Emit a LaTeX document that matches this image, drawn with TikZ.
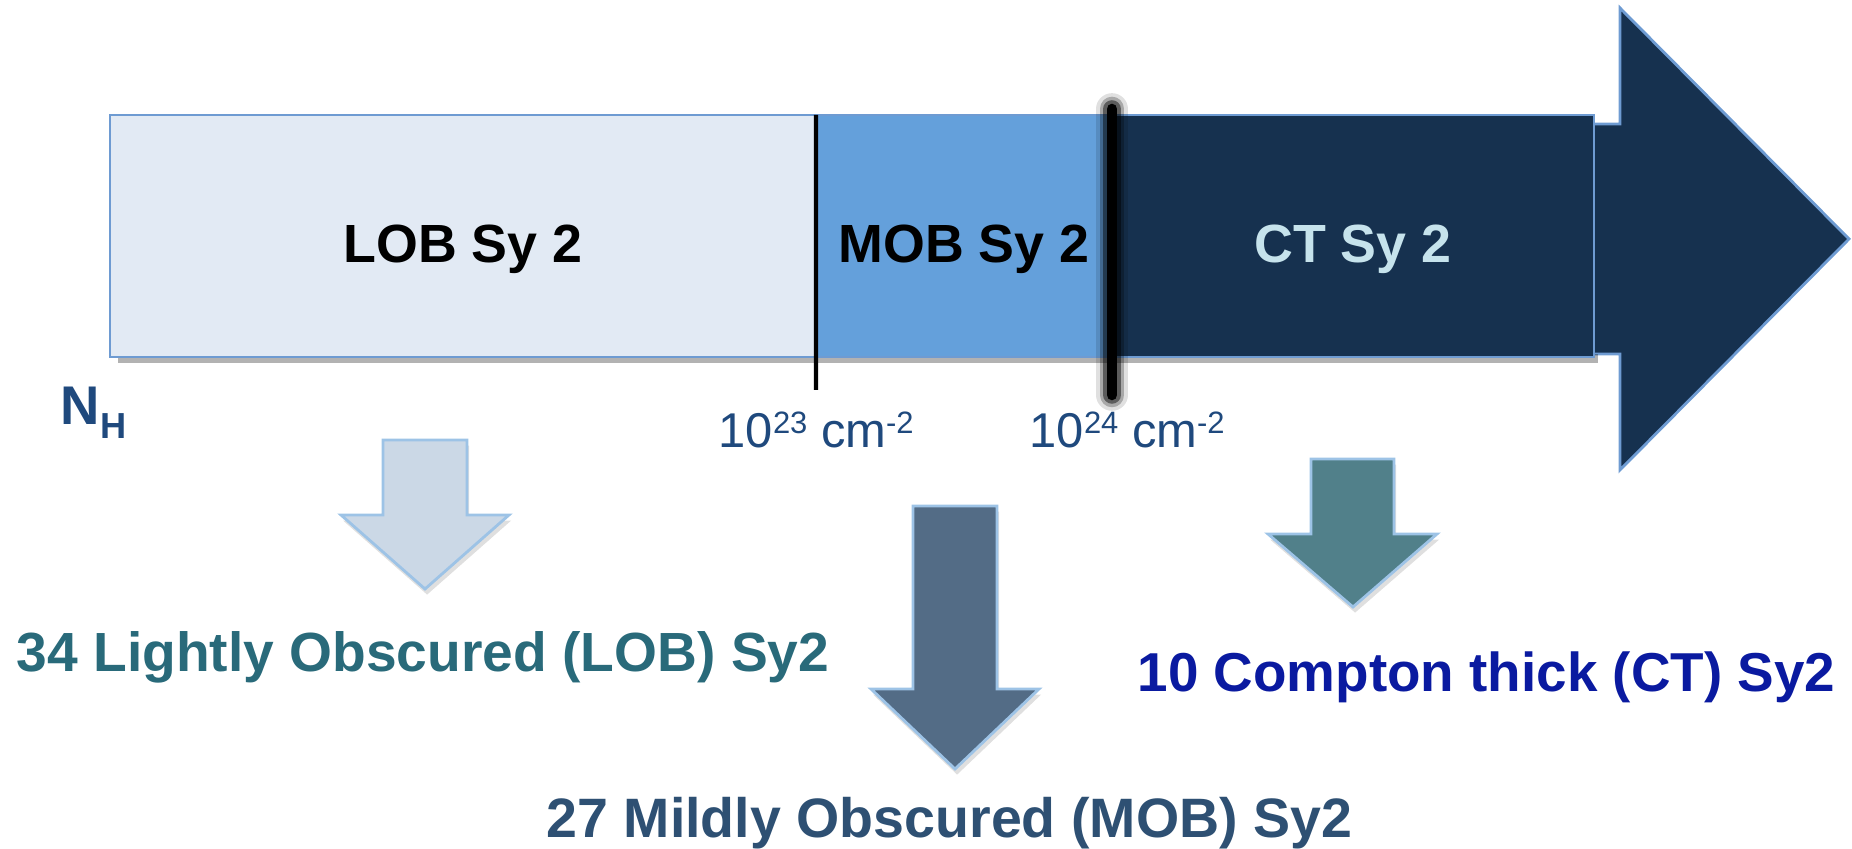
\documentclass[tikz,border=0pt]{standalone}
\usepackage{fontspec}
\setmainfont{Liberation Sans}
\usetikzlibrary{shadows}
\definecolor{lobfill}{RGB}{226,234,244}
\definecolor{mobfill}{RGB}{100,160,219}
\definecolor{ctfill}{RGB}{22,49,79}
\definecolor{barline}{RGB}{110,155,210}
\definecolor{nhblue}{RGB}{31,73,125}
\definecolor{ctlight}{RGB}{198,227,236}
\definecolor{lobarrow}{RGB}{203,216,230}
\definecolor{mobarrow}{RGB}{83,108,134}
\definecolor{ctarrow}{RGB}{81,128,138}
\definecolor{arrowline}{RGB}{157,195,230}
\definecolor{lobtext}{RGB}{41,106,122}
\definecolor{mobtext}{RGB}{46,80,115}
\definecolor{cttext}{RGB}{10,26,160}
\newcommand{\upidx}[1]{\raisebox{1.4mm}{\fontsize{8.8}{10}\selectfont #1}}
\tikzset{
  bar seg/.style={draw=barline, line width=0.8pt, minimum height=2.42cm, inner sep=0pt, outer sep=0pt},
  bar text/.style={font=\fontsize{15.3}{18}\selectfont\bfseries, anchor=base, inner sep=0pt},
  count text/.style={font=\fontsize{15.7}{19}\selectfont\bfseries, anchor=base west, inner sep=0pt},
  nh text/.style={font=\fontsize{13.9}{16}\selectfont, text=nhblue, anchor=base west, inner sep=0pt},
  down block/.style={draw=arrowline, line width=0.8pt, drop shadow={opacity=0.25, shadow xshift=0.6pt, shadow yshift=-1.6pt}}
}

\begin{document}
\begin{tikzpicture}
\useasboundingbox (0,0) rectangle (18.52,8.49);
% big arrow behind the bar
\draw [fill=ctfill, draw=barline, line width=0.8pt] (15.0,7.25) -- (16.20,7.25) -- (16.20,8.41) -- (18.49,6.10) -- (16.20,3.79) -- (16.20,4.95) -- (15.0,4.95) -- cycle;
\fill [black, opacity=0.3] (1.18,4.86) rectangle (15.98,4.95);
\node [bar seg, fill=lobfill, minimum width=7.06cm] (lob) at (4.63,6.13) {};
\node [bar seg, fill=mobfill, minimum width=2.96cm] (mob) at (9.64,6.13) {};
\node [bar seg, fill=ctfill, minimum width=4.82cm] (ct) at (13.53,6.13) {};
\node [bar text] (loblabel) at (4.63,5.86) {LOB Sy 2};
\node [bar text] (moblabel) at (9.64,5.86) {MOB Sy 2};
\node [bar text, text=ctlight] (ctlabel) at (13.53,5.86) {CT Sy 2};
% limits
\draw [line width=1.2pt] (lob.north east) -- (8.16,4.59);
\foreach \w/\o in {9pt/0.12, 7pt/0.25, 5pt/0.45, 3pt/1}
  \draw [line width=\w, opacity=\o, line cap=round] (11.12,7.40) -- (11.12,4.54);
\node [anchor=base west, inner sep=0pt, text=nhblue, font=\bfseries] (nh) at (0.60,4.24)
  {{\fontsize{15.5}{18}\selectfont N}{\fontsize{10.3}{12}\selectfont\raisebox{-1.4mm}{H}}};
\node [nh text] (lim23) at (7.18,4.01) {10\upidx{23} cm\upidx{-2}};
\node [nh text] (lim24) at (10.29,4.01) {10\upidx{24} cm\upidx{-2}};
% classes
\draw [down block, fill=lobarrow] (3.83,4.09) -- (4.67,4.09) -- (4.67,3.34) -- (5.09,3.34) -- (4.25,2.60) -- (3.41,3.34) -- (3.83,3.34) -- cycle;
\draw [down block, fill=mobarrow] (9.13,3.43) -- (9.97,3.43) -- (9.97,1.60) -- (10.39,1.60) -- (9.55,0.80) -- (8.71,1.60) -- (9.13,1.60) -- cycle;
\draw [down block, fill=ctarrow] (13.11,3.90) -- (13.94,3.90) -- (13.94,3.15) -- (14.37,3.15) -- (13.53,2.42) -- (12.68,3.15) -- (13.11,3.15) -- cycle;
\node [count text, text=lobtext] (lobcount) at (0.16,1.77) {34 Lightly Obscured (LOB) Sy2};
\node [count text, text=mobtext, font=\fontsize{15.8}{19}\selectfont\bfseries] (mobcount) at (5.46,0.11) {27 Mildly Obscured (MOB) Sy2};
\node [count text, text=cttext, font=\fontsize{15.6}{19}\selectfont\bfseries] (ctcount) at (11.37,1.57) {10 Compton thick (CT) Sy2};
\end{tikzpicture}
\end{document}
